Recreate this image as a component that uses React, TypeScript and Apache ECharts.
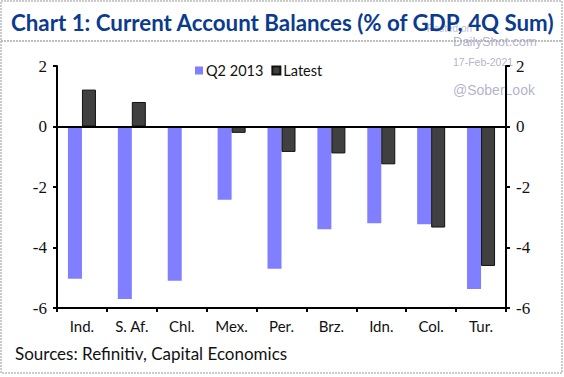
import React, { useEffect, useRef } from "react";
import * as echarts from "echarts";

const categories = ["Ind.", "S. Af.", "Chl.", "Mex.", "Per.", "Brz.", "Idn.", "Col.", "Tur."];
const q2013 = [-5.03, -5.7, -5.1, -2.42, -4.7, -3.4, -3.2, -3.23, -5.37];
const latest = [1.22, 0.81, 0, -0.21, -0.84, -0.89, -1.25, -3.34, -4.61];
const titleText = "Chart 1: Current Account Balances (% of GDP, 4Q Sum)";
const sourceText = "Sources: Refinitiv, Capital Economics";

export default function App() {
  const ref = useRef<HTMLDivElement>(null);
  useEffect(() => {
    if (!ref.current) return;
    const chart = echarts.init(ref.current, null, { renderer: "svg" });
    const yAxisCommon = {
      type: "value" as const,
      min: -6,
      max: 2,
      interval: 2,
      axisLine: { show: true, lineStyle: { color: "#000", width: 2 } },
      axisTick: { show: true, inside: false, length: 4, lineStyle: { color: "#000", width: 2 } },
      splitLine: { show: false },
      axisLabel: { fontFamily: "Liberation Serif", fontSize: 17, color: "#111", margin: 10 },
    };
    chart.setOption({
      animation: false,
      backgroundColor: "#fff",
      title: {
        text: titleText,
        left: 6,
        top: 6,
        textStyle: { fontFamily: "Lato", fontWeight: "bold", fontSize: 22.3, color: "#0b3b8f" },
      },
      legend: {
        left: 190,
        top: 58,
        itemWidth: 8,
        itemHeight: 8,
        itemGap: 8,
        textStyle: { fontFamily: "Lato", fontSize: 14.5, color: "#111", padding: [0, 0, 0, -2] },
        data: [
          { name: "Q2 2013", icon: "rect" },
          { name: "Latest", icon: "rect" },
        ],
      },
      grid: { left: 57, right: 58, top: 66, bottom: 69 },
      xAxis: {
        type: "category",
        data: categories,
        position: "bottom",
        axisLine: { show: true, onZero: false, lineStyle: { color: "#000", width: 2 } },
        axisTick: { show: true, inside: false, length: 4, lineStyle: { color: "#000", width: 2 } },
        axisLabel: { fontFamily: "Lato", fontSize: 15, color: "#111", margin: 10 },
      },
      yAxis: [
        { ...yAxisCommon, position: "left" },
        { ...yAxisCommon, position: "right" },
      ],
      series: [
        {
          name: "Q2 2013",
          type: "bar",
          data: q2013,
          barWidth: 14,
          barGap: "0%",
          itemStyle: { color: "#7f7fff" },
          markLine: {
            silent: true,
            symbol: "none",
            label: { show: false },
            lineStyle: { color: "#000", width: 2, type: "solid" },
            data: [{ yAxis: 0 }],
          },
        },
        {
          name: "Latest",
          type: "bar",
          data: latest,
          barWidth: 14,
          itemStyle: { color: "#404040", borderColor: "#111", borderWidth: 1 },
        },
      ],
      graphic: [
        { type: "rect", shape: { x: 1, y: 1, width: 561, height: 372 }, style: { fill: "none", stroke: "#bbb", lineWidth: 1.5, lineDash: [2, 1] } },
        { type: "line", shape: { x1: 1, y1: 41, x2: 562, y2: 41 }, style: { stroke: "#aaa", lineWidth: 1.5, lineDash: [2, 1] } },
        { type: "text", x: 15, y: 345, style: { text: sourceText, fontFamily: "Lato", fontSize: 17, fill: "#111" } },
        { type: "text", x: 427, y: 23, style: { text: "Posted on", fontFamily: "Liberation Sans", fontSize: 10, fill: "rgba(160,160,190,0.7)" } },
        { type: "text", x: 453, y: 35, style: { text: "DailyShot.com", fontFamily: "Liberation Sans", fontSize: 13, fill: "rgba(160,160,190,0.8)" } },
        { type: "text", x: 453, y: 56, style: { text: "17-Feb-2021", fontFamily: "Liberation Sans", fontSize: 10.5, fill: "rgba(160,160,190,0.8)" } },
        { type: "text", x: 453, y: 83, style: { text: "@SoberLook", fontFamily: "Liberation Sans", fontSize: 14, fill: "rgba(160,160,190,0.8)" } },
      ],
    });
    return () => chart.dispose();
  }, []);
  return <div ref={ref} style={{ position: "fixed", left: 0, top: 0, width: 564, height: 377 }} />;
}
